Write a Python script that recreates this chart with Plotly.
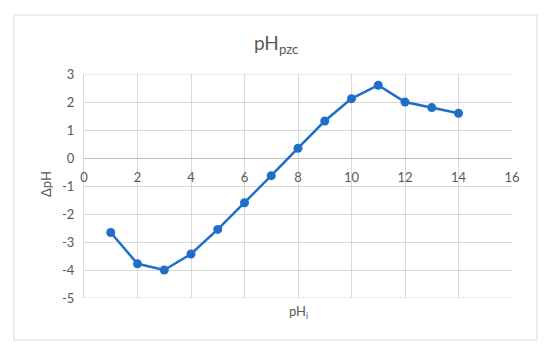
import plotly.graph_objects as go

# pH titration data (drift method)
ph_initial = [1, 2, 3, 4, 5, 6, 7, 8, 9, 10, 11, 12, 13, 14]
delta_ph = [-2.66, -3.78, -4.0, -3.43, -2.55, -1.6, -0.63, 0.35, 1.32, 2.12, 2.6, 2.0, 1.8, 1.6]

x_ticks = [0, 2, 4, 6, 8, 10, 12, 14, 16]
y_ticks = [-5, -4, -3, -2, -1, 0, 1, 2, 3]

# page body margin shifts the figure, so lay things out in screen pixels
OFF = 8
W, H = 550, 354
L, T = 84 - OFF, 74 - OFF
R = W - (512 - OFF)
B = H - (298 - OFF)
pw = W - L - R
ph = H - T - B


def px_x(v):
    return (v - OFF - L) / pw


def px_y(v):
    return (H - B - (v - OFF)) / ph


grey = "#595959"
gridc = "#D9D9D9"
blue = "#1F6FC9"

fig = go.Figure()
fig.add_trace(go.Scatter(
    x=ph_initial, y=delta_ph, mode="lines+markers",
    line=dict(color=blue, width=2.5),
    marker=dict(color=blue, size=9),
    showlegend=False,
))

fig.update_layout(
    width=W, height=H,
    margin=dict(l=L, r=R, t=T, b=B, autoexpand=False),
    plot_bgcolor="white", paper_bgcolor="white",
    font=dict(family="Lato", color=grey, size=13),
    xaxis=dict(
        range=[0, 16], tickvals=x_ticks, ticktext=[str(v) for v in x_ticks],
        showgrid=True, gridcolor=gridc,
        zeroline=False, showline=False, anchor="free", position=5 / 8,
        ticks="", fixedrange=True, automargin=False, ticklabelstandoff=10,
        tickfont=dict(size=13, color=grey),
    ),
    yaxis=dict(
        range=[-5, 3], tickvals=y_ticks, ticktext=[str(v) for v in y_ticks],
        showgrid=True, gridcolor=gridc,
        zeroline=True, zerolinecolor="#BFBFBF", zerolinewidth=1,
        showline=True, linecolor=gridc, linewidth=1,
        ticks="", fixedrange=True, automargin=False, ticklabelstandoff=6,
        tickfont=dict(size=13, color=grey),
    ),
)

# border lines of the plot area that the grid leaves out
for y0 in (-5, 3):
    fig.add_shape(type="line", xref="x", yref="y", x0=0, x1=16, y0=y0, y1=y0,
                  line=dict(color=gridc, width=1), layer="below")

# y axis title
fig.add_annotation(
    text="ΔpH", xref="paper", yref="paper", textangle=-90,
    x=px_x(46), y=px_y(184), xanchor="center", yanchor="middle",
    showarrow=False, font=dict(size=13, color=grey),
)
# x axis title below the plot
fig.add_annotation(
    text="pH<sub>i</sub>", xref="paper", yref="paper",
    x=px_x(298), y=px_y(312), xanchor="center", yanchor="middle",
    showarrow=False, font=dict(size=13, color=grey),
)
# chart title
fig.add_annotation(
    text="pH<sub>pzc</sub>", xref="paper", yref="paper",
    x=px_x(276), y=px_y(44), xanchor="center", yanchor="middle",
    showarrow=False, font=dict(size=19, color=grey),
)
# chart area border
fig.add_shape(
    type="rect", xref="paper", yref="paper",
    x0=px_x(14), x1=px_x(537), y0=px_y(340), y1=px_y(15),
    line=dict(color=gridc, width=1), layer="below",
)

fig.write_html("out.html")
